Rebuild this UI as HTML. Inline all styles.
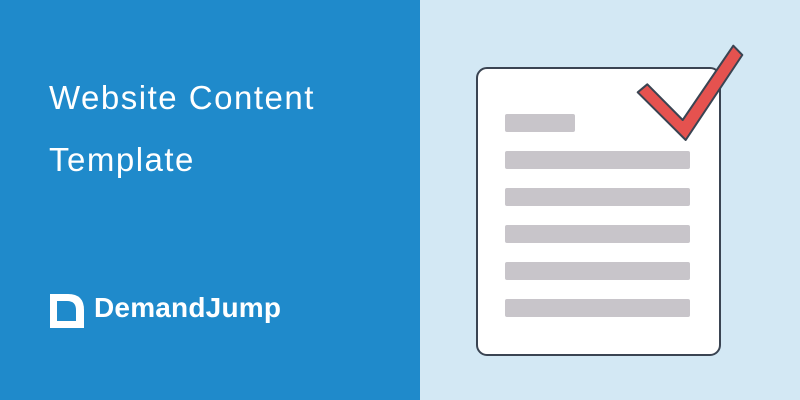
<!DOCTYPE html>
<html><head><style>
body{margin:0;width:800px;height:400px;position:relative;overflow:hidden;font-family:"Liberation Sans",sans-serif}
.l{position:absolute;left:0;top:0;width:420px;height:400px;background:#1f8acb}
.r{position:absolute;left:420px;top:0;width:380px;height:400px;background:#d3e8f4}
.t{position:absolute;left:49px;color:#fff;font-size:33px;letter-spacing:1.5px;white-space:nowrap}
</style></head><body>
<div class="l"></div><div class="r"></div>
<div class="t" style="top:79px">Website Content</div>
<div class="t" style="top:141px">Template</div>
<svg style="position:absolute;left:48px;top:292px" width="40" height="38" viewBox="0 0 40 38">
<path d="M2 2 H20 Q36 2 36 18 V36 H2 Z" fill="#fff"/>
<path d="M9 9 H19 Q28 9 28 18 V29 H9 Z" fill="#1f8acb"/>
</svg>
<div style="position:absolute;left:94px;top:292px;color:#fff;font-size:28px;font-weight:bold;letter-spacing:0.2px">DemandJump</div>
<svg style="position:absolute;left:0;top:0" width="800" height="400">
<rect x="477" y="68" width="243" height="287" rx="10" fill="#fff" stroke="#3a4452" stroke-width="2"/>
<g fill="#c8c5ca">
<rect x="505" y="114" width="70" height="18" rx="2"/>
<rect x="505" y="151" width="185" height="18" rx="2"/>
<rect x="505" y="188" width="185" height="18" rx="2"/>
<rect x="505" y="225" width="185" height="18" rx="2"/>
<rect x="505" y="262" width="185" height="18" rx="2"/>
<rect x="505" y="299" width="185" height="18" rx="2"/>
</g>
<polygon points="637.7,92.3 647.3,84.3 682.7,120 733.3,45.7 742.3,55 685.7,140" fill="#e5524f" stroke="#3a4452" stroke-width="2" stroke-linejoin="round"/>
</svg>
</body></html>
